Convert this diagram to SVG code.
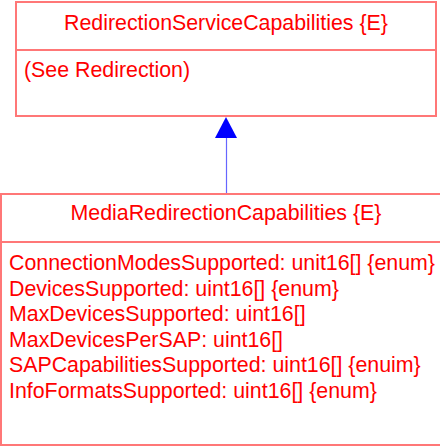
<svg xmlns="http://www.w3.org/2000/svg" width="440" height="446" viewBox="0 0 440 446">
<style>
.box{fill:#fff;stroke:#ff7777;stroke-width:2}
.div{stroke:#ff7777;stroke-width:2}
text{font-family:"Liberation Sans",Arial,sans-serif;font-size:21.35px;fill:#ff0000}
.c{text-anchor:middle}
</style>
<g id="connectors">
<line x1="226.5" y1="137" x2="226.5" y2="194" stroke="#6666ff" stroke-width="1.2"/>
<polygon points="226,117 215,138 237,138" fill="#0000ff"/>
</g>
<g id="RedirectionServiceCapabilities">
<rect class="box" x="16" y="2" width="420" height="114"/>
<line class="div" x1="16" y1="50" x2="436" y2="50"/>
<text class="c" x="226" y="30">RedirectionServiceCapabilities {E}</text>
<text x="24" y="77">(See Redirection)</text>
</g>
<g id="MediaRedirectionCapabilities">
<rect class="box" x="1" y="194" width="445" height="251"/>
<line class="div" x1="1" y1="242" x2="440" y2="242"/>
<text class="c" x="226" y="220">MediaRedirectionCapabilities {E}</text>
<text x="9" y="270">ConnectionModesSupported: unit16[] {enum}</text>
<text x="9" y="295.5">DevicesSupported: uint16[] {enum}</text>
<text x="9" y="321">MaxDevicesSupported: uint16[]</text>
<text x="9" y="346.5">MaxDevicesPerSAP: uint16[]</text>
<text x="9" y="372">SAPCapabilitiesSupported: uint16[] {enuim}</text>
<text x="9" y="397.5">InfoFormatsSupported: uint16[] {enum}</text>
</g>
</svg>
